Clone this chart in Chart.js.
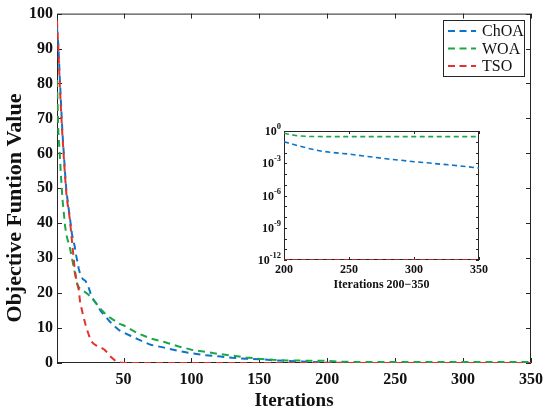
<!DOCTYPE html>
<html>
<head>
<meta charset="utf-8">
<script src="https://cdn.jsdelivr.net/npm/chart.js@4.4.0/dist/chart.umd.min.js"></script>
<style>
html, body { margin:0; padding:0; background:#fff; }
#wrap { position:relative; width:550px; height:412px; }
#main { position:absolute; left:0; top:0; }
#inset { position:absolute; left:230px; top:120px; }
</style>
</head>
<body>
<div id="wrap">
  <canvas id="main" width="550" height="412"></canvas>
  <canvas id="inset" width="270" height="175"></canvas>
</div>
<script>
// iteration grid shared by the three curves
var iterations = [1,2,3,4,5,6,7,8,9,10,
  11,12,13,14,15,16,17,18,20,22,
  24,26,28,30,33,36,38,40,44,47,
  50,55,60,65,70,80,90,100,110,120,
  130,140,150,160,170,180,190,200,210,220,
  230,240,250,260,270,280,290,300,310,320,
  330,340,350];

var choa = [96,91,82,74,66,60,54,49,46,43,
  40,37,35,33.5,31,29,27,25.5,24,23.5,
  22,19.5,18,17,15,13.5,12.7,11.8,10.3,9.3,
  8.7,7.8,6.9,6,5.2,4.4,3.5,2.8,2.2,1.9,
  1.5,1.2,1.1,0.8,0.6,0.45,0.3,0.1,0.045,0.022,
  0.0126,0.0093,0.0071,0.005,0.0035,0.0025,0.0019,0.0014,0.0011,0.00083,
  0.00066,0.0005,0.00034];

var woa = [81,66,60,53,47,43,39,36.5,35,34,
  32,30,28,26,24,22.5,21.7,21.2,20.7,20.2,
  19.6,18.8,18,17,15.5,14.3,13.7,13,12,11.2,
  10.8,9.7,8.6,7.8,7,6,4.8,3.8,3.2,2.6,
  2.1,1.6,1.2,0.9,0.75,0.68,0.64,0.62,0.36,0.31,
  0.3,0.3,0.3,0.3,0.3,0.3,0.3,0.3,0.3,0.3,
  0.3,0.3,0.3];

var tso = [98,90,80,72,65,59,53,48,45,42.5,
  39,35,31,27,24.5,22.5,21,17.5,14,11,
  8.5,6.3,5.5,5,4.5,3.8,3,2,0.6,0.2,
  1e-12,1e-12,1e-12,1e-12,1e-12,1e-12,1e-12,1e-12,1e-12,1e-12,
  1e-12,1e-12,1e-12,1e-12,1e-12,1e-12,1e-12,1e-12,1e-12,1e-12,
  1e-12,1e-12,1e-12,1e-12,1e-12,1e-12,1e-12,1e-12,1e-12,1e-12,
  1e-12,1e-12,1e-12];

var seriesNames = ['ChOA', 'WOA', 'TSO'];
var seriesColors = ['#0b74c8', '#1ca646', '#e3322b'];

var xTicksMain = [50,100,150,200,250,300,350];
var yTicksMain = [0,10,20,30,40,50,60,70,80,90,100];
var xTicksInset = [200,250,300,350];
var yExpInset = [0,-3,-6,-9,-12];

var serif = "'Liberation Serif', 'Times New Roman', serif";

function makeSets(from, dash, width) {
  return [choa, woa, tso].map(function (vals, k) {
    var pts = [];
    iterations.forEach(function (it, i) {
      if (it >= from) pts.push({x: it, y: vals[i]});
    });
    return {
      label: seriesNames[k],
      data: pts,
      borderColor: seriesColors[k],
      borderWidth: width,
      borderDash: dash,
      pointRadius: 0,
      fill: false,
      tension: 0,
      order: 2 - k
    };
  });
}

// box round the plot and inward tick marks on all four sides, under the curves
function boxTicks(len, minorY) {
  return {
    id: 'boxTicks',
    beforeDatasetsDraw: function (chart) {
      var a = chart.chartArea, c = chart.ctx;
      var xs = chart.scales.x, ys = chart.scales.y;
      c.save();
      c.fillStyle = '#fff';
      c.fillRect(a.left, a.top, a.right - a.left, a.bottom - a.top);
      c.strokeStyle = '#262626';
      c.lineWidth = 1;
      c.strokeRect(a.left + 0.5, a.top + 0.5, a.right - a.left - 1, a.bottom - a.top - 1);
      c.beginPath();
      xs.ticks.forEach(function (t) {
        var px = Math.round(xs.getPixelForValue(t.value)) + 0.5;
        c.moveTo(px, a.bottom); c.lineTo(px, a.bottom - len);
        c.moveTo(px, a.top); c.lineTo(px, a.top + len);
      });
      var yv = minorY ? minorY : ys.ticks.map(function (t) { return t.value; });
      yv.forEach(function (v) {
        var py = Math.round(ys.getPixelForValue(v)) + 0.5;
        c.moveTo(a.left, py); c.lineTo(a.left + len, py);
        c.moveTo(a.right, py); c.lineTo(a.right - len, py);
      });
      c.stroke();
      c.restore();
    }
  };
}

var legendBox = {
  id: 'legendBox',
  afterDraw: function (chart) {
    var c = chart.ctx;
    var x0 = 443, y0 = 20, w = 81, h = 56;
    c.save();
    c.fillStyle = '#fff';
    c.fillRect(x0, y0, w, h);
    c.strokeStyle = '#262626';
    c.lineWidth = 1;
    c.strokeRect(x0 + 0.5, y0 + 0.5, w, h);
    c.font = '16px ' + serif;
    c.textBaseline = 'middle';
    c.fillStyle = '#111';
    chart.data.datasets.forEach(function (ds, i) {
      var y = y0 + 11 + i * 17.5;
      c.strokeStyle = ds.borderColor;
      c.lineWidth = 2;
      c.setLineDash([7, 4.5]);
      c.beginPath();
      c.moveTo(448, y); c.lineTo(476, y);
      c.stroke();
      c.setLineDash([]);
      c.fillText(ds.label, 482, y + 1);
    });
    c.restore();
  }
};

// y axis title, a little below the middle of the axis as in the original
var yTitle = {
  id: 'yTitle',
  afterDraw: function (chart) {
    var c = chart.ctx;
    c.save();
    c.translate(15, 208);
    c.rotate(-Math.PI / 2);
    c.font = 'bold 22px ' + serif;
    c.fillStyle = '#111';
    c.textAlign = 'center';
    c.textBaseline = 'middle';
    c.fillText('Objective Funtion Value', 0, 0);
    c.restore();
  }
};

new Chart(document.getElementById('main').getContext('2d'), {
  type: 'line',
  data: { datasets: makeSets(1, [7, 5], 2) },
  options: {
    responsive: false,
    animation: false,
    layout: { padding: { left: 0, top: 13, right: 18, bottom: 0 } },
    plugins: { legend: { display: false }, tooltip: { enabled: false } },
    scales: {
      x: {
        type: 'linear', min: 1, max: 350,
        afterBuildTicks: function (s) { s.ticks = xTicksMain.map(function (v) { return {value: v}; }); },
        afterFit: function (s) { s.height = 49; },
        grid: { display: false, drawTicks: false },
        border: { display: false },
        ticks: { font: { family: serif, size: 16, weight: 'bold' }, color: '#111', padding: 7, maxRotation: 0, autoSkip: false },
        title: { display: true, text: 'Iterations', color: '#111', font: { family: serif, size: 19, weight: 'bold' }, padding: { top: 0, bottom: 0 } }
      },
      y: {
        type: 'linear', min: 0, max: 100,
        afterBuildTicks: function (s) { s.ticks = yTicksMain.map(function (v) { return {value: v}; }); },
        afterFit: function (s) { s.width = 57; },
        grid: { display: false, drawTicks: false },
        border: { display: false },
        ticks: { font: { family: serif, size: 16, weight: 'bold' }, color: '#111', padding: 4, autoSkip: false }
      }
    }
  },
  plugins: [boxTicks(5), legendBox, yTitle]
});

// y labels of the inset as 10 with a raised exponent
var insetYLabels = {
  id: 'insetYLabels',
  afterDraw: function (chart) {
    var c = chart.ctx, ys = chart.scales.y, a = chart.chartArea;
    c.save();
    c.fillStyle = '#111';
    c.textBaseline = 'middle';
    yExpInset.forEach(function (e) {
      var py = ys.getPixelForValue(Math.pow(10, e));
      var ex = String(e);
      c.font = 'bold 8.5px ' + serif;
      var ew = c.measureText(ex).width;
      c.font = 'bold 12px ' + serif;
      var bw = c.measureText('10').width;
      var xr = a.left - 3;
      c.fillText('10', xr - ew - bw, py + 1);
      c.font = 'bold 8.5px ' + serif;
      c.fillText(ex, xr - ew, py - 4);
    });
    c.restore();
  }
};

new Chart(document.getElementById('inset').getContext('2d'), {
  type: 'line',
  data: { datasets: makeSets(200, [5, 3.5], 1.6) },
  options: {
    responsive: false,
    animation: false,
    layout: { padding: { left: 0, top: 11, right: 21, bottom: 0 } },
    plugins: { legend: { display: false }, tooltip: { enabled: false } },
    scales: {
      x: {
        type: 'linear', min: 200, max: 350,
        afterBuildTicks: function (s) { s.ticks = xTicksInset.map(function (v) { return {value: v}; }); },
        afterFit: function (s) { s.height = 35; },
        grid: { display: false, drawTicks: false },
        border: { display: false },
        ticks: { font: { family: serif, size: 12, weight: 'bold' }, color: '#111', padding: 3, maxRotation: 0, autoSkip: false },
        title: { display: true, text: 'Iterations 200\u2212350', color: '#111', font: { family: serif, size: 12, weight: 'bold' }, padding: { top: 0, bottom: 3 } }
      },
      y: {
        type: 'logarithmic', min: 1e-12, max: 1,
        afterBuildTicks: function (s) { s.ticks = yExpInset.map(function (e) { return {value: Math.pow(10, e)}; }); },
        afterFit: function (s) { s.width = 54; },
        grid: { display: false, drawTicks: false },
        border: { display: false },
        ticks: { display: false }
      }
    }
  },
  plugins: [boxTicks(3, [1,1e-1,1e-2,1e-3,1e-4,1e-5,1e-6,1e-7,1e-8,1e-9,1e-10,1e-11,1e-12]), insetYLabels]
});
</script>
</body>
</html>
